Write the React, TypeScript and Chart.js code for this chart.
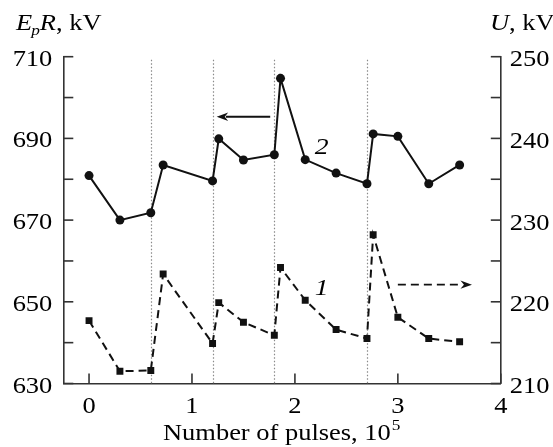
import React, { useEffect, useRef } from "react";
import { Chart, registerables } from "chart.js";

Chart.register(...registerables);

// x positions (in 10^5 pulses)
const pulses = [0, 0.3, 0.6, 0.72, 1.2, 1.26, 1.5, 1.8, 1.86, 2.1, 2.4, 2.7, 2.76, 3.0, 3.3, 3.6];
// Curve 2: EpR, kV (left axis)
const epR = [680.9, 670.0, 671.8, 683.5, 679.6, 689.9, 684.7, 686.0, 704.7, 684.8, 681.5, 678.9, 691.1, 690.5, 678.9, 683.5];
// Curve 1: U, kV (right axis)
const uVals = [217.7, 211.5, 211.6, 223.4, 214.9, 219.9, 217.5, 215.9, 224.2, 220.2, 216.6, 215.5, 228.2, 218.1, 215.5, 215.1];
// vertical dotted markers
const markers = [0.6, 1.2, 1.8, 2.7];
const xTickLabels = [0, 1, 2, 3, 4];
const leftTicks = [630, 640, 650, 660, 670, 680, 690, 700, 710];
const leftLabels = [630, 650, 670, 690, 710];
const rightTicks = [210, 215, 220, 225, 230, 235, 240, 245, 250];
const rightLabels = [210, 220, 230, 240, 250];

const FONT = '"Liberation Serif", "Times New Roman", serif';
const SX = 1.15;

function stretchedText(ctx: CanvasRenderingContext2D, text: string, x: number, y: number, font: string, align: "left" | "center" | "right" = "left") {
  ctx.save();
  ctx.font = font;
  const w = ctx.measureText(text).width * SX;
  let x0 = x;
  if (align === "center") x0 = x - w / 2;
  if (align === "right") x0 = x - w;
  ctx.translate(x0, y);
  ctx.scale(SX, 1);
  ctx.textAlign = "left";
  ctx.textBaseline = "alphabetic";
  ctx.fillText(text, 0, 0);
  ctx.restore();
  return w;
}

function arrow(ctx: CanvasRenderingContext2D, x1: number, y1: number, x2: number, y2: number, dashed: boolean) {
  const dir = Math.sign(x2 - x1);
  const headLen = 11.5;
  const half = 4.2;
  ctx.save();
  ctx.strokeStyle = "#111";
  ctx.fillStyle = "#111";
  ctx.lineWidth = 1.8;
  if (dashed) ctx.setLineDash([8, 5]);
  ctx.beginPath();
  ctx.moveTo(x1, y1);
  ctx.lineTo(x2 - dir * headLen * 0.8, y2);
  ctx.stroke();
  ctx.setLineDash([]);
  ctx.beginPath();
  ctx.moveTo(x2, y2);
  ctx.lineTo(x2 - dir * headLen, y2 - half);
  ctx.lineTo(x2 - dir * headLen * 0.7, y2);
  ctx.lineTo(x2 - dir * headLen, y2 + half);
  ctx.closePath();
  ctx.fill();
  ctx.restore();
}

const decorPlugin = {
  id: "decor",
  beforeDatasetsDraw(chart: any) {
    const { ctx, chartArea } = chart;
    const xs = chart.scales.x;
    ctx.save();
    ctx.strokeStyle = "#8a8a8a";
    ctx.lineWidth = 1.2;
    ctx.setLineDash([1.5, 2]);
    markers.forEach((m) => {
      const px = Math.round(xs.getPixelForValue(m)) + 0.5;
      ctx.beginPath();
      ctx.moveTo(px, chartArea.top + 3);
      ctx.lineTo(px, chartArea.bottom);
      ctx.stroke();
    });
    ctx.restore();
  },
  afterDraw(chart: any) {
    const { ctx, chartArea } = chart;
    const xs = chart.scales.x;
    const yl = chart.scales.y;
    const yr = chart.scales.y1;
    ctx.save();
    ctx.strokeStyle = "#333";
    ctx.lineWidth = 1.6;
    leftTicks.forEach((v) => {
      const py = yl.getPixelForValue(v);
      ctx.beginPath();
      ctx.moveTo(chartArea.left, py);
      ctx.lineTo(chartArea.left + 10, py);
      ctx.stroke();
    });
    rightTicks.forEach((v) => {
      const py = yr.getPixelForValue(v);
      ctx.beginPath();
      ctx.moveTo(chartArea.right, py);
      ctx.lineTo(chartArea.right - 10, py);
      ctx.stroke();
    });
    xTickLabels.forEach((v) => {
      const px = xs.getPixelForValue(v);
      ctx.beginPath();
      ctx.moveTo(px, chartArea.bottom);
      ctx.lineTo(px, chartArea.bottom - 10);
      ctx.stroke();
    });
    ctx.restore();

    ctx.save();
    ctx.fillStyle = "#000";
    const f = `23px ${FONT}`;
    leftLabels.forEach((v) => {
      stretchedText(ctx, String(v), chartArea.left - 11, yl.getPixelForValue(v) + 9, f, "right");
    });
    rightLabels.forEach((v) => {
      stretchedText(ctx, String(v), chartArea.right + 9, yr.getPixelForValue(v) + 9.5, f, "left");
    });
    xTickLabels.forEach((v) => {
      stretchedText(ctx, String(v), xs.getPixelForValue(v), 413, f, "center");
    });
    // x title
    let x = 163;
    x += stretchedText(ctx, "Number of pulses, 10", x, 440, f);
    stretchedText(ctx, "5", x + 1, 430, `15px ${FONT}`);
    // left axis title
    const fi = `italic 23px ${FONT}`;
    x = 16;
    x += stretchedText(ctx, "E", x, 30, fi);
    x += stretchedText(ctx, "p", x - 1, 35, `italic 15px ${FONT}`);
    x += stretchedText(ctx, "R", x - 1, 30, fi);
    stretchedText(ctx, ", kV", x - 1, 30, f);
    // right axis title
    x = 490;
    x += stretchedText(ctx, "U", x, 30, fi);
    stretchedText(ctx, ", kV", x, 30, f);

    // curve labels
    const fl = `italic 24px ${FONT}`;
    stretchedText(ctx, "2", xs.getPixelForValue(2.26), yl.getPixelForValue(688.1) + 8, fl, "center");
    stretchedText(ctx, "1", xs.getPixelForValue(2.26), yr.getPixelForValue(221.8) + 8, fl, "center");
    ctx.restore();

    // arrows
    arrow(ctx, xs.getPixelForValue(1.76), yl.getPixelForValue(695.3), xs.getPixelForValue(1.24), yl.getPixelForValue(695.3), false);
    arrow(ctx, xs.getPixelForValue(3.0), yr.getPixelForValue(222.1), xs.getPixelForValue(3.72), yr.getPixelForValue(222.1), true);
  },
};

export default function App() {
  const ref = useRef<HTMLCanvasElement | null>(null);
  useEffect(() => {
    if (!ref.current) return;
    const chart = new Chart(ref.current, {
      type: "line",
      data: {
        datasets: [
          {
            label: "2",
            data: pulses.map((p, i) => ({ x: p, y: epR[i] })),
            yAxisID: "y",
            borderColor: "#111",
            backgroundColor: "#111",
            borderWidth: 2,
            pointStyle: "circle",
            pointRadius: 4.5,
            pointBorderWidth: 0,
            tension: 0,
          },
          {
            label: "1",
            data: pulses.map((p, i) => ({ x: p, y: uVals[i] })),
            yAxisID: "y1",
            borderColor: "#111",
            backgroundColor: "#111",
            borderWidth: 2,
            borderDash: [8, 5],
            pointStyle: "rect",
            pointRadius: 4.9,
            pointBorderWidth: 0,
            tension: 0,
          },
        ],
      },
      options: {
        responsive: false,
        animation: false,
        layout: { padding: { top: 56.7, left: 0, right: 0, bottom: 0 } },
        plugins: { legend: { display: false }, tooltip: { enabled: false } },
        scales: {
          x: {
            type: "linear",
            min: -0.25,
            max: 4,
            grid: { display: false },
            ticks: { display: false },
            border: { display: true, color: "#333", width: 1.6 },
            afterFit: (s: any) => { s.height = 447 - 383.5; },
          },
          y: {
            type: "linear",
            position: "left",
            min: 630,
            max: 710,
            grid: { display: false },
            ticks: { display: false, stepSize: 10 },
            border: { display: true, color: "#333", width: 1.6 },
            afterFit: (s: any) => { s.width = 63.3; },
          },
          y1: {
            type: "linear",
            position: "right",
            min: 210,
            max: 250,
            grid: { display: false },
            ticks: { display: false, stepSize: 5 },
            border: { display: true, color: "#333", width: 1.6 },
            afterFit: (s: any) => { s.width = 553 - 500.8; },
          },
        },
      },
      plugins: [decorPlugin],
    });
    return () => chart.destroy();
  }, []);
  return (
    <div style={{ position: "absolute", left: 0, top: 0, width: 553, height: 447, background: "#fff" }}>
      <canvas ref={ref} width={553} height={447} />
    </div>
  );
}
